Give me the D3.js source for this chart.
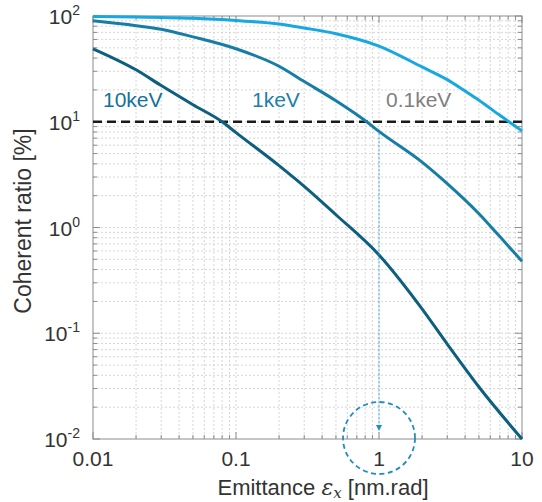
<html>
<head>
<meta charset="utf-8"/>
<script src="https://d3js.org/d3.v7.min.js"></script>
<style type="text/css">
body {
  margin: 0;
  overflow: hidden;
  background: #fff;
  font-family: "Liberation Sans", Arial, Helvetica, sans-serif;
}
</style>
</head>
<body>
<div id="v"></div>
<script type="text/javascript">
// values
var xDomain = [0.01, 10];
var yDomain = [0.01, 100];
var xTickValues = [0.01, 0.1, 1, 10];
var xTickLabels = ["0.01", "0.1", "1", "10"];
var yTickValues = [0.01, 0.1, 1, 10, 100];
var yTickExps = ["-2", "-1", "0", "1", "2"];

var xs10keV = [0.01, 0.02, 0.03, 0.05, 0.08, 0.1, 0.2, 0.3, 0.5, 1, 2, 3, 5, 10];
var ratio10keV = [49, 31, 22, 14.5, 10, 7.9, 3.85, 2.45, 1.32, 0.55, 0.17, 0.079, 0.031, 0.01];

var xs1keV = [0.01, 0.02, 0.03, 0.05, 0.1, 0.2, 0.3, 0.5, 0.82, 1, 2, 3, 5, 7, 10];
var ratio1keV = [90, 81, 75, 63.5, 49, 33.5, 24, 15.8, 10, 8.1, 4.15, 2.6, 1.35, 0.82, 0.48];

var xs01keV = [0.01, 0.02, 0.05, 0.1, 0.2, 0.3, 0.5, 1, 2, 3, 4, 5, 7, 10];
var ratio01keV = [99, 98, 95, 90.5, 84, 77, 68, 52, 33, 25, 19.5, 16, 11.5, 8.2];

var threshold = 10;
var markX = 1;

var series = [
  {name: "10keV", xs: xs10keV, ys: ratio10keV, color: "#0d5f80", labelColor: "#14729a", lx: 103, ly: 107},
  {name: "1keV", xs: xs1keV, ys: ratio1keV, color: "#167ea6", labelColor: "#1a80aa", lx: 252, ly: 107},
  {name: "0.1keV", xs: xs01keV, ys: ratio01keV, color: "#18a8e0", labelColor: "#7f7f7f", lx: 386, ly: 107}
];

var width = 542, height = 502;
var pLeft = 93, pRight = 522, pTop = 16, pBottom = 439;

var svg = d3.select("#v").append("svg")
  .attr("width", width)
  .attr("height", height);

var x = d3.scaleLog().domain(xDomain).range([pLeft, pRight]);
var y = d3.scaleLog().domain(yDomain).range([pBottom, pTop]);

// every 1..9 multiple inside the domain
function logTicks(dom) {
  var out = [];
  for (var e = Math.round(Math.log10(dom[0])); e < Math.round(Math.log10(dom[1])); e++) {
    for (var m = 1; m < 10; m++) out.push(m * Math.pow(10, e));
  }
  out.push(dom[1]);
  return out;
}
var xAll = logTicks(xDomain);
var yAll = logTicks(yDomain);
function isMajor(v) { return Math.abs(Math.log10(v) - Math.round(Math.log10(v))) < 1e-6; }

// grid
var grid = svg.append("g").attr("stroke", "#cccccc").attr("stroke-width", 0.8).attr("stroke-dasharray", "2,2");
grid.selectAll(".gx").data(xAll.filter(function(d) { return d > xDomain[0] && d < xDomain[1]; })).enter()
  .append("line")
  .attr("x1", function(d) { return x(d); }).attr("x2", function(d) { return x(d); })
  .attr("y1", pTop).attr("y2", pBottom);
grid.selectAll(".gy").data(yAll.filter(function(d) { return d > yDomain[0] && d < yDomain[1]; })).enter()
  .append("line")
  .attr("y1", function(d) { return y(d); }).attr("y2", function(d) { return y(d); })
  .attr("x1", pLeft).attr("x2", pRight);

// box and inward ticks on all four sides
var axisColor = "#8c8c8c";
svg.append("rect")
  .attr("x", pLeft).attr("y", pTop)
  .attr("width", pRight - pLeft).attr("height", pBottom - pTop)
  .attr("fill", "none").attr("stroke", axisColor).attr("stroke-width", 1);

var ticks = svg.append("g").attr("stroke", axisColor).attr("stroke-width", 1);
xAll.forEach(function(d) {
  var len = isMajor(d) ? 7 : 4;
  ticks.append("line").attr("x1", x(d)).attr("x2", x(d)).attr("y1", pBottom).attr("y2", pBottom - len);
  ticks.append("line").attr("x1", x(d)).attr("x2", x(d)).attr("y1", pTop).attr("y2", pTop + len);
});
yAll.forEach(function(d) {
  var len = isMajor(d) ? 7 : 4;
  ticks.append("line").attr("y1", y(d)).attr("y2", y(d)).attr("x1", pLeft).attr("x2", pLeft + len);
  ticks.append("line").attr("y1", y(d)).attr("y2", y(d)).attr("x1", pRight).attr("x2", pRight - len);
});

// tick labels
svg.selectAll(".xl").data(xTickValues).enter()
  .append("text")
  .attr("x", function(d) { return x(d); })
  .attr("y", 466)
  .attr("text-anchor", "middle")
  .attr("font-size", 21)
  .attr("fill", "#333")
  .text(function(d, i) { return xTickLabels[i]; });

var yl = svg.selectAll(".yl").data(yTickValues).enter()
  .append("text")
  .attr("x", 80)
  .attr("y", function(d) { return y(d) + 8; })
  .attr("text-anchor", "end")
  .attr("font-size", 21)
  .attr("fill", "#333");
yl.append("tspan").text("10");
yl.append("tspan").attr("dy", -9).attr("font-size", 14).text(function(d, i) { return yTickExps[i]; });

// threshold line
svg.append("line")
  .attr("x1", pLeft).attr("x2", pRight)
  .attr("y1", y(threshold)).attr("y2", y(threshold))
  .attr("stroke", "#1a1a1a").attr("stroke-width", 2.6).attr("stroke-dasharray", "9,5");

// curves
var line = d3.line()
  .x(function(d) { return x(d[0]); })
  .y(function(d) { return y(d[1]); })
  .curve(d3.curveMonotoneX);

series.forEach(function(s) {
  var pts = s.xs.map(function(v, i) { return [v, s.ys[i]]; });
  svg.append("path")
    .attr("d", line(pts))
    .attr("fill", "none")
    .attr("stroke", s.color)
    .attr("stroke-width", 3);
  svg.append("text")
    .attr("x", s.lx).attr("y", s.ly)
    .attr("font-size", 21)
    .attr("fill", s.labelColor)
    .text(s.name);
});

// dotted drop arrow from the 1keV curve at markX
var i1 = xs1keV.indexOf(markX);
var yStart = y(ratio1keV[i1]) + 2;
var yEnd = pBottom - 8;
svg.append("line")
  .attr("x1", x(markX)).attr("x2", x(markX))
  .attr("y1", yStart).attr("y2", yEnd - 5)
  .attr("stroke", "#22a0d6").attr("stroke-width", 1).attr("stroke-dasharray", "2,2");
svg.append("path")
  .attr("d", "M" + (x(markX) - 3) + "," + (yEnd - 6) + "L" + (x(markX) + 3) + "," + (yEnd - 6) + "L" + x(markX) + "," + yEnd + "Z")
  .attr("fill", "#1c8fc2");

svg.append("circle")
  .attr("cx", x(markX)).attr("cy", pBottom - 1)
  .attr("r", 36)
  .attr("fill", "none")
  .attr("stroke", "#1e8cbf").attr("stroke-width", 1.8).attr("stroke-dasharray", "5,3.5");

// axis titles
var xt = svg.append("text")
  .attr("x", 323).attr("y", 495)
  .attr("text-anchor", "middle")
  .attr("font-size", 22)
  .attr("fill", "#333");
xt.append("tspan").text("Emittance ");
xt.append("tspan").attr("font-family", "'DejaVu Serif', serif").attr("font-style", "italic").text("ε");
xt.append("tspan").attr("font-family", "'DejaVu Serif', serif").attr("font-style", "italic").attr("font-size", 15).attr("dy", 3).text("x");
xt.append("tspan").attr("dy", -3).text(" [nm.rad]");

svg.append("text")
  .attr("transform", "translate(31,221) rotate(-90)")
  .attr("text-anchor", "middle")
  .attr("font-size", 23)
  .attr("fill", "#333")
  .text("Coherent ratio [%]");
</script>
</body>
</html>
